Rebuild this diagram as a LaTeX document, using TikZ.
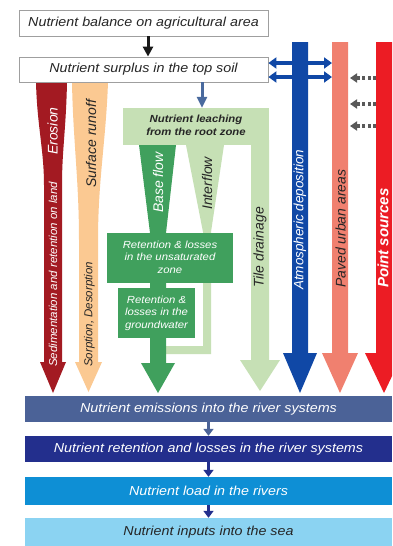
\documentclass[tikz,border=0pt]{standalone}
\usepackage{fontspec}
\setmainfont{Liberation Sans}
\usetikzlibrary{arrows.meta}
\definecolor{erored}{HTML}{A31A22}
\definecolor{peach}{HTML}{FBC992}
\definecolor{lgreen}{HTML}{C6E0B5}
\definecolor{mgreen}{HTML}{40A05D}
\definecolor{atmblue}{HTML}{1048A6}
\definecolor{pinkc}{HTML}{F0806F}
\definecolor{ptred}{HTML}{EC1C24}
\definecolor{emisc}{HTML}{4B6297}
\definecolor{retnc}{HTML}{232F8D}
\definecolor{loadc}{HTML}{0E8FD5}
\definecolor{seac}{HTML}{8BD3F2}
\definecolor{slatea}{HTML}{4A6A9E}
\definecolor{darktxt}{HTML}{262626}
\newcommand{\hx}[1]{\scalebox{1.1}[1]{#1}}
\newcommand{\mlines}[1]{\begin{tabular}{@{}c@{}}#1\end{tabular}}
\begin{document}
\begin{tikzpicture}[x=1pt,y=-1pt,
  topbox/.style={draw=gray!75, line width=0.8pt, fill=white, inner sep=0pt,
    minimum width=249pt, font=\itshape\fontsize{13}{15}\selectfont, text=darktxt},
  bbox/.style={inner sep=0pt, minimum width=367pt, font=\itshape\fontsize{13}{15}\selectfont},
  gbox/.style={inner sep=0pt, font=\itshape\fontsize{10.3}{12.5}\selectfont, text=white},
  vlab/.style={rotate=90, anchor=west, inner sep=0pt, font=\itshape\fontsize{14}{16}\selectfont},
  vsmall/.style={rotate=90, anchor=west, inner sep=0pt, font=\itshape\fontsize{11.5}{13}\selectfont},
  blkarrow/.style={draw=black!90, line width=3pt, -{Triangle[length=10pt,width=10pt]}},
  slatearrow/.style={draw=slatea, line width=3pt, -{Triangle[length=11pt,width=10pt]}},
  dblarrow/.style={draw=atmblue, line width=3.5pt, {Triangle[length=8pt,width=11pt]}-{Triangle[length=8pt,width=11pt]}},
  dasharrow/.style={draw=black!65, line width=3.2pt, dash pattern=on 3pt off 2.5pt, -{Triangle[length=7pt,width=9pt]}},
  chainarrow/.style={line width=3.5pt, -{Triangle[length=7pt,width=10pt]}}
]
\useasboundingbox (0,0) rectangle (392,546);
\clip (0,0) rectangle (392,546);
\fill[white] (0,0) rectangle (392,546);

% ---- flow columns ----
\fill[erored] (36,82) -- (67,82) .. controls (66,130) and (62,150) .. (62,185) -- (62,362)
  -- (66,362) -- (53,393) -- (40,362) -- (44,362) -- (44,185)
  .. controls (44,150) and (37,125) .. (36,82) -- cycle;
\fill[peach] (72,82) -- (108,82) .. controls (106,140) and (98,180) .. (98,240) -- (98,362)
  -- (102,362) -- (88.5,392) -- (75,362) -- (79,362) -- (79,240)
  .. controls (79,180) and (73,140) .. (72,82) -- cycle;
\fill[lgreen] (186,145) -- (224,145) -- (211,232) -- (211,354) -- (166,354) -- (166,346)
  -- (203,346) -- (203,232) -- cycle;
\fill[mgreen] (139,145) -- (176,145) -- (166,233) -- (166,363) -- (175,363) -- (158,393)
  -- (141,363) -- (150,363) -- (150,233) -- cycle;
\fill[lgreen] (251,140) -- (269,140) -- (269,360) -- (280,360) -- (260,391) -- (240,360)
  -- (251,360) -- cycle;
\fill[atmblue] (292,42) -- (308,42) -- (308,353) -- (317,353) -- (300,393) -- (283,353)
  -- (292,353) -- cycle;
\fill[pinkc] (332,42) -- (348,42) -- (348,353) -- (358,353) -- (340,393) -- (322,353)
  -- (332,353) -- cycle;
\fill[ptred] (376,42) -- (394,42) -- (394,353) -- (403,353) -- (384,393) -- (365,353)
  -- (376,353) -- cycle;

% ---- top boxes ----
\node[topbox, minimum height=26pt] (bal) at (143.5,23) {\hx{Nutrient balance on agricultural area}};
\node[topbox, minimum height=25pt] (surp) at (143.5,69.5) {\hx{Nutrient surplus in the top soil}};

% ---- green boxes ----
\node[gbox, fill=lgreen, text=darktxt, minimum width=146pt, minimum height=37pt,
  font=\bfseries\itshape\fontsize{10.3}{13}\selectfont] (leach) at (196,126.5)
  {\hx{\mlines{Nutrient leaching\\from the root zone}}};
\node[gbox, fill=mgreen, minimum width=126pt, minimum height=50pt] (unsat) at (170,258)
  {\hx{\mlines{Retention \& losses\\in the unsaturated\\zone}}};
\node[gbox, fill=mgreen, minimum width=77pt, minimum height=50pt] (gw) at (156.5,313)
  {\hx{\mlines{Retention \&\\losses in the\\groundwater}}};

% ---- bottom boxes ----
\node[bbox, fill=emisc, text=white, minimum height=26pt] (emis) at (208.5,409)
  {\hx{Nutrient emissions into the river systems}};
\node[bbox, fill=retnc, text=white, minimum height=26pt] (retn) at (208.5,449)
  {\hx{Nutrient retention and losses in the river systems}};
\node[bbox, fill=loadc, text=white, minimum height=28pt] (load) at (208.5,491)
  {\hx{Nutrient load in the rivers}};
\node[bbox, fill=seac, text=darktxt, minimum height=28pt] (sea) at (208.5,532)
  {\hx{Nutrient inputs into the sea}};

% ---- column labels ----
\node[vlab, text=white] (lero) at (52.5,155) {Erosion};
\node[vsmall, text=white] (lsed) at (53,367) {Sedimentation and retention on land};
\node[vlab, text=darktxt] (lsur) at (91,188) {Surface runoff};
\node[vsmall, text=darktxt] (lsor) at (89.5,367) {Sorption, Desorption};
\node[vlab, text=white] (lbase) at (158,213) {Base flow};
\node[vlab, text=darktxt] (linter) at (207,210) {Interflow};
\node[vlab, text=darktxt] (ltile) at (260,288) {Tile drainage};
\node[vlab, text=white, font=\itshape\fontsize{13.5}{16}\selectfont] (latm) at (300,290) {Atmospheric deposition};
\node[vlab, text=darktxt] (lpav) at (340.5,288) {Paved urban areas};
\node[vlab, text=white, font=\bfseries\itshape\fontsize{15}{18}\selectfont] (lpt) at (383,288) {Point sources};

% ---- connectors ----
\coordinate (pinkL1) at (332,63);
\coordinate (pinkL2) at (332,77);
\coordinate (redA) at (376,78);  \coordinate (pinkA) at (350,78);
\coordinate (redB) at (376,104); \coordinate (pinkB) at (350,104);
\coordinate (redC) at (376,126); \coordinate (pinkC) at (350,126);

\draw[blkarrow] (bal.south -| 148,0) -- (surp.north -| 148,0);
\draw[slatearrow] (surp.south -| 202,0) -- (leach.north -| 202,0);
\draw[dblarrow] (surp.east |- pinkL1) -- (pinkL1);
\draw[dblarrow] (surp.east |- pinkL2) -- (pinkL2);
\draw[dasharrow] (redA) -- (pinkA);
\draw[dasharrow] (redB) -- (pinkB);
\draw[dasharrow] (redC) -- (pinkC);

\draw[chainarrow, draw=emisc] (emis.south) -- (retn.north);
\draw[chainarrow, draw=retnc] (retn.south) -- (load.north);
\draw[chainarrow, draw=retnc] (load.south) -- (sea.north);
\end{tikzpicture}
\end{document}
